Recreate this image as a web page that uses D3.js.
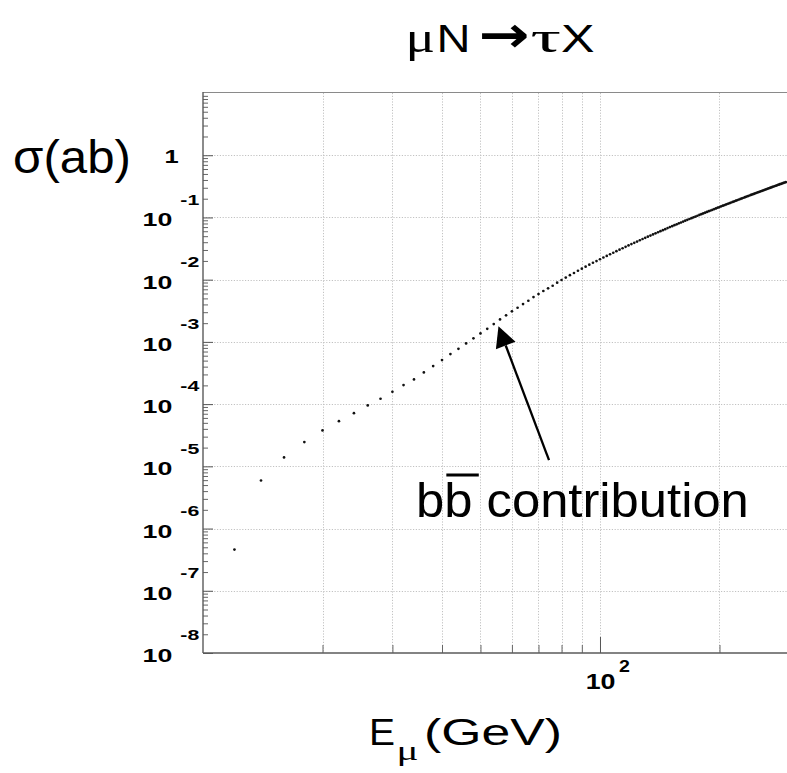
<!DOCTYPE html>
<html>
<head>
<meta charset="utf-8">
<script src="https://cdn.jsdelivr.net/npm/d3@7"></script>
<style>
  body { margin: 0; background: #fff; }
  svg { display: block; }
</style>
</head>
<body>
<svg id="chart" width="787" height="773"></svg>
<script>
// Muon energy (GeV) of each computed point
const energies = [
  12, 14, 16, 18, 20, 22, 24, 26, 28, 30, 32, 34, 36, 38, 40, 42, 44, 46, 48, 50,
  52, 54, 56, 58, 60, 62, 64, 66, 68, 70, 72, 74, 76, 78, 80, 82, 84, 86, 88, 90,
  92, 94, 96, 98, 100, 102, 104, 106, 108, 110, 112, 114, 116, 118, 120, 122, 124, 126, 128, 130,
  132, 134, 136, 138, 140, 142, 144, 146, 148, 150, 152, 154, 156, 158, 160, 162, 164, 166, 168, 170,
  172, 174, 176, 178, 180, 182, 184, 186, 188, 190, 192, 194, 196, 198, 200, 202, 204, 206, 208, 210,
  212, 214, 216, 218, 220, 222, 224, 226, 228, 230, 232, 234, 236, 238, 240, 242, 244, 246, 248, 250,
  252, 254, 256, 258, 260, 262, 264, 266, 268, 270, 272, 274, 276, 278, 280, 282, 284, 286, 288, 290,
  292, 294
];

// Cross section sigma(mu N -> tau X) in ab at each energy
const sigmaAb = [
  4.60e-7, 5.92e-6, 1.39e-5, 2.45e-5, 3.77e-5, 5.32e-5, 7.16e-5, 9.52e-5, 1.22e-4, 1.58e-4,
  2.02e-4, 2.49e-4, 3.23e-4, 4.08e-4, 5.10e-4, 6.37e-4, 7.75e-4, 9.46e-4, 1.14e-3, 1.37e-3,
  1.62e-3, 1.93e-3, 2.30e-3, 2.67e-3, 3.10e-3, 3.54e-3, 4.06e-3, 4.58e-3, 5.26e-3, 5.87e-3,
  6.57e-3, 7.25e-3, 7.99e-3, 8.93e-3, 9.87e-3, 0.0108, 0.0118, 0.0128, 0.0139, 0.0150,
  0.0162, 0.0174, 0.0187, 0.0199, 0.0213, 0.0227, 0.0241, 0.0256, 0.0271, 0.0287,
  0.0303, 0.0320, 0.0337, 0.0355, 0.0373, 0.0391, 0.0410, 0.0430, 0.0450, 0.0470,
  0.0491, 0.0512, 0.0534, 0.0556, 0.0578, 0.0602, 0.0625, 0.0649, 0.0674, 0.0699,
  0.0724, 0.0750, 0.0776, 0.0803, 0.0830, 0.0858, 0.0886, 0.0915, 0.0944, 0.0973,
  0.1003, 0.1034, 0.1065, 0.1096, 0.1127, 0.1160, 0.1192, 0.1225, 0.1259, 0.1293,
  0.1327, 0.1362, 0.1398, 0.1433, 0.1470, 0.1507, 0.1544, 0.1582, 0.1620, 0.1659,
  0.1698, 0.1738, 0.1778, 0.1819, 0.1860, 0.1901, 0.1943, 0.1987, 0.2030, 0.2073,
  0.2117, 0.2162, 0.2206, 0.2252, 0.2298, 0.2344, 0.2391, 0.2438, 0.2485, 0.2533,
  0.2582, 0.2631, 0.2680, 0.2730, 0.2780, 0.2831, 0.2882, 0.2934, 0.2986, 0.3039,
  0.3092, 0.3145, 0.3199, 0.3253, 0.3308, 0.3364, 0.3419, 0.3475, 0.3532, 0.3589,
  0.3646, 0.3704
];

// Axis ranges and tick layout
const xDomain = [10, 300];
const yDomain = [1e-8, 10];
const yDecadeExponents = [-8, -7, -6, -5, -4, -3, -2, -1, 0];
const xGridValues = [20, 30, 40, 50, 60, 70, 80, 90, 100, 200];
const xMinorTicks = [20, 30, 40, 50, 60, 70, 80, 90, 200, 300];
const xMajorTicks = [100];
const xTickLabels = [{ value: 100, base: "10", exp: "2" }];

// Annotation: arrow pointing at the onset of the b-bbar contribution
const annotation = {
  tip: { E: 55.5, sigma: 1.78e-3 },
  tail: { E: 74.4, sigma: 1.26e-5 },
  label: ["b", "b", " contribution"]
};

const SANS = "'Liberation Sans', Arial, Helvetica, sans-serif";
const SERIF = "'Liberation Serif', 'Times New Roman', serif";
const ARROWFONT = "'DejaVu Sans', sans-serif";

// Title pieces: glyph, font, size, left edge, width
const titleParts = [
  { t: "\u03bc", font: SERIF, size: 44, x: 405.5, w: 29.5 },
  { t: "N", font: SANS, size: 39, x: 436.5, w: 34 },
  { t: "\u2192", font: ARROWFONT, size: 50, x: 478.5, w: 51, bold: true },
  { t: "\u03c4", font: SERIF, size: 44, x: 530.5, w: 30.5 },
  { t: "X", font: SANS, size: 39, x: 561, w: 33.5 }
];

const svg = d3.select("#chart");
svg.append("rect").attr("width", 787).attr("height", 773).attr("fill", "#fff");

const x = d3.scaleLog().domain(xDomain).range([203, 789.4]);
const y = d3.scaleLog().domain(yDomain).range([653, 93]);
const [pl, pr] = x.range();
const [pb, pt] = y.range();

svg.append("defs").append("clipPath").attr("id", "plot-clip")
  .append("rect").attr("x", pl).attr("y", pt).attr("width", pr - pl).attr("height", pb - pt);

// Dotted grid
const grid = svg.append("g").attr("stroke", "#c2c2c2").attr("stroke-width", 1)
  .attr("stroke-dasharray", "1.2,1.6").attr("fill", "none");
grid.selectAll("line.gx").data(xGridValues).join("line").attr("class", "gx")
  .attr("x1", d => Math.round(x(d)) + 0.5).attr("x2", d => Math.round(x(d)) + 0.5)
  .attr("y1", pt).attr("y2", pb);
grid.selectAll("line.gy").data(yDecadeExponents.filter(e => e > -8)).join("line").attr("class", "gy")
  .attr("x1", pl).attr("x2", pr)
  .attr("y1", d => Math.round(y(Math.pow(10, d))) + 0.5)
  .attr("y2", d => Math.round(y(Math.pow(10, d))) + 0.5);

// Y axis ticks (inward): decades long, 2..9 short
const yMajor = yDecadeExponents.map(e => Math.pow(10, e));
const yMinor = [];
yDecadeExponents.forEach(e => { for (let m = 2; m <= 9; m++) yMinor.push(m * Math.pow(10, e)); });

svg.append("g").attr("transform", `translate(${pl},0)`)
  .call(d3.axisLeft(y).tickValues(yMinor).tickSize(-5).tickFormat(""))
  .call(g => g.select(".domain").remove())
  .call(g => g.selectAll("line").attr("stroke", "#666"));
svg.append("g").attr("transform", `translate(${pl},0)`)
  .call(d3.axisLeft(y).tickValues(yMajor).tickSize(-10).tickFormat(""))
  .call(g => g.select(".domain").remove())
  .call(g => g.selectAll("line").attr("stroke", "#555"));

// X axis ticks (inward)
svg.append("g").attr("transform", `translate(0,${pb})`)
  .call(d3.axisBottom(x).tickValues(xMinorTicks).tickSize(-8).tickFormat(""))
  .call(g => g.select(".domain").remove())
  .call(g => g.selectAll("line").attr("stroke", "#666"));
svg.append("g").attr("transform", `translate(0,${pb})`)
  .call(d3.axisBottom(x).tickValues(xMajorTicks).tickSize(-16).tickFormat(""))
  .call(g => g.select(".domain").remove())
  .call(g => g.selectAll("line").attr("stroke", "#555"));

// Frame
svg.append("line").attr("x1", pl).attr("x2", 787).attr("y1", pt - 0.5).attr("y2", pt - 0.5)
  .attr("stroke", "#8a8a8a").attr("stroke-width", 1.2);
svg.append("line").attr("x1", pl).attr("x2", pl).attr("y1", pt - 1).attr("y2", pb)
  .attr("stroke", "#5a5a5a").attr("stroke-width", 1.4);
svg.append("line").attr("x1", pl).attr("x2", 787).attr("y1", pb).attr("y2", pb)
  .attr("stroke", "#5a5a5a").attr("stroke-width", 1.4);

// Data points
const points = energies.map((E, i) => ({ E, s: sigmaAb[i] }));
svg.append("g").attr("clip-path", "url(#plot-clip)")
  .selectAll("circle").data(points).join("circle")
  .attr("cx", d => x(d.E)).attr("cy", d => y(d.s)).attr("r", 1.35)
  .attr("fill", "#111");

// Y tick labels: 10^n, bold, horizontally widened
const yLab = svg.append("g").attr("font-family", SANS).attr("font-weight", "bold").attr("fill", "#000");
yDecadeExponents.forEach(e => {
  const gy = y(Math.pow(10, e));
  if (e === 0) {
    yLab.append("text")
      .attr("transform", `translate(171.7,${gy + 8}) scale(1.44,1)`)
      .attr("text-anchor", "middle").attr("font-size", 17.7).text("1");
  } else {
    const t = yLab.append("text")
      .attr("transform", `translate(142.5,${gy + 9}) scale(1.44,1)`)
      .attr("font-size", 18.6);
    t.append("tspan").text("10");
    t.append("tspan").attr("dx", 5.6).attr("dy", -21.7).attr("font-size", 14.8).text(String(e));
  }
});

// Fit a text element horizontally between left and right edges
function fitText(sel, left, right) {
  const bb = sel.node().getBBox();
  const sx = (right - left) / bb.width;
  sel.attr("transform", `translate(${left},0) scale(${sx},1) translate(${-bb.x},0)`);
  return sx;
}

// X tick labels
xTickLabels.forEach(d => {
  const t = svg.append("text").attr("font-family", SANS).attr("font-weight", "bold")
    .attr("x", 0).attr("y", 689.3).attr("font-size", 22.3);
  t.append("tspan").text(d.base);
  t.append("tspan").attr("dx", 3).attr("dy", -17.6).attr("font-size", 16.3).text(d.exp);
  const cx = x(d.value);
  fitText(t, cx - 14.3, cx + 30);
});

// Title: each glyph placed and widened to its own slot
const title = svg.append("text").attr("y", 52).attr("fill", "#000");
titleParts.forEach(p => {
  const ts = title.append("tspan").text(p.t)
    .attr("x", p.x).attr("font-family", p.font).attr("font-size", p.size)
    .attr("textLength", p.w).attr("lengthAdjust", "spacingAndGlyphs");
  if (p.bold) ts.attr("font-weight", "bold");
});

// Y axis title
const yTitle = svg.append("text").attr("x", 0).attr("y", 173.5).attr("font-size", 46)
  .attr("font-family", SANS).text("\u03c3(ab)");
fitText(yTitle, 13, 131);

// X axis title: E_mu (GeV)
const xTitle = svg.append("text").attr("y", 745).attr("font-size", 37.3)
  .attr("font-family", SANS).attr("fill", "#000");
xTitle.append("tspan").attr("x", 369).attr("textLength", 26).attr("lengthAdjust", "spacingAndGlyphs").text("E");
xTitle.append("tspan").attr("x", 396.5).attr("dy", 15).attr("font-family", SERIF).attr("font-size", 27)
  .attr("textLength", 22).attr("lengthAdjust", "spacingAndGlyphs").text("\u03bc");
xTitle.append("tspan").attr("x", 424).attr("dy", -15)
  .attr("textLength", 138).attr("lengthAdjust", "spacingAndGlyphs").text("(GeV)");

// Annotation arrow
const tip = [x(annotation.tip.E), y(annotation.tip.sigma)];
const tail = [x(annotation.tail.E), y(annotation.tail.sigma)];
const dx = tip[0] - tail[0], dy = tip[1] - tail[1];
const len = Math.hypot(dx, dy);
const ux = dx / len, uy = dy / len;
const headLen = 20.5, headHalf = 10.5;
const base = [tip[0] - ux * headLen, tip[1] - uy * headLen];
svg.append("line").attr("x1", tail[0]).attr("y1", tail[1]).attr("x2", base[0]).attr("y2", base[1])
  .attr("stroke", "#000").attr("stroke-width", 2.3);
svg.append("path")
  .attr("d", d3.line()([
    tip,
    [base[0] - uy * headHalf, base[1] + ux * headHalf],
    [base[0] + uy * headHalf, base[1] - ux * headHalf]
  ]) + "Z")
  .attr("fill", "#000");

// Annotation label with overlined second b
const labG = svg.append("g");
const lab = labG.append("text").attr("x", 0).attr("y", 517).attr("font-size", 48)
  .attr("font-family", SANS).attr("fill", "#000");
annotation.label.forEach(s => lab.append("tspan").text(s));
const bb = lab.node().getBBox();
const sx = (749 - 416) / bb.width;
labG.attr("transform", `translate(416,0) scale(${sx},1) translate(${-bb.x},0)`);
const ext = lab.node().getExtentOfChar(1);
labG.append("line")
  .attr("x1", ext.x + 2).attr("x2", ext.x + ext.width + 6)
  .attr("y1", 475).attr("y2", 475)
  .attr("stroke", "#000").attr("stroke-width", 3);
</script>
</body>
</html>
